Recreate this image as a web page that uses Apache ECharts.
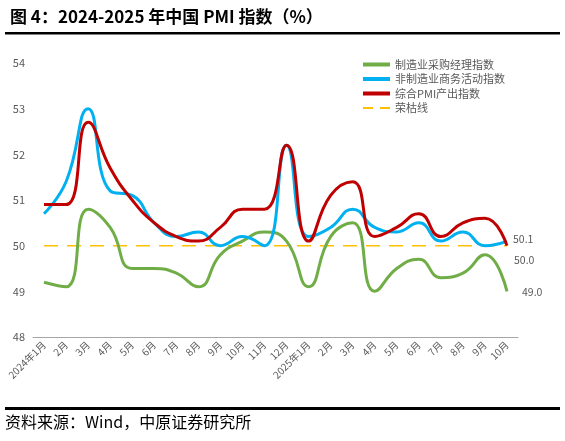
<!DOCTYPE html>
<html>
<head>
<meta charset="utf-8">
<script src="https://cdn.jsdelivr.net/npm/echarts@6/dist/echarts.min.js"></script>
<style>
  html, body { margin: 0; padding: 0; background: #fff; }
  #chart { width: 565px; height: 441px; }
</style>
</head>
<body>
<div id="chart"></div>
<script>
const months = ['2024年1月', '2月', '3月', '4月', '5月', '6月', '7月', '8月', '9月', '10月', '11月', '12月',
  '2025年1月', '2月', '3月', '4月', '5月', '6月', '7月', '8月', '9月', '10月'];
const manufacturing = [49.2, 49.1, 50.8, 50.4, 49.5, 49.5, 49.4, 49.1, 49.8, 50.1, 50.3, 50.1,
  49.1, 50.2, 50.5, 49.0, 49.5, 49.7, 49.3, 49.4, 49.8, 49.0];
const nonManufacturing = [50.7, 51.4, 53.0, 51.2, 51.1, 50.5, 50.2, 50.3, 50.0, 50.2, 50.0, 52.2,
  50.2, 50.4, 50.8, 50.4, 50.3, 50.5, 50.1, 50.3, 50.0, 50.1];
const composite = [50.9, 50.9, 52.7, 51.7, 51.0, 50.5, 50.2, 50.1, 50.4, 50.8, 50.8, 52.2,
  50.1, 51.1, 51.4, 50.2, 50.4, 50.7, 50.2, 50.5, 50.6, 50.0];
const boomLine = months.map(() => 50);

const chart = echarts.init(document.getElementById('chart'));
const font = '"Noto Sans CJK SC", sans-serif';

// 末端数值标注
const endMark = (arr, offset) => ({
  symbol: 'circle', symbolSize: 0, silent: true,
  label: { show: true, position: 'right', offset: offset, color: '#595959', fontSize: 10.5, fontFamily: font,
    formatter: p => p.value.toFixed(1) },
  data: [{ coord: [arr.length - 1, arr[arr.length - 1]], value: arr[arr.length - 1] }]
});

const option = {
  animation: false,
  textStyle: { fontFamily: font },
  title: {
    text: '图 4：2024-2025 年中国 PMI 指数（%）',
    left: 5, top: 3,
    textStyle: { fontSize: 17, fontWeight: 'bold', color: '#000', fontFamily: font }
  },
  graphic: [
    { type: 'rect', shape: { x: 5, y: 32, width: 555, height: 2.5 }, style: { fill: '#000' } },
    { type: 'rect', shape: { x: 5, y: 407, width: 555, height: 3 }, style: { fill: '#000' } },
    { type: 'text', left: 5, top: 414, style: { text: '资料来源：Wind，中原证券研究所', fontSize: 16, fill: '#000', fontFamily: font } }
  ],
  legend: {
    orient: 'vertical',
    left: 358, top: 54,
    itemWidth: 27, itemHeight: 4, itemGap: 3.5,
    textStyle: { fontSize: 11, color: '#595959', fontFamily: font },
    data: [
      { name: '制造业采购经理指数', icon: 'rect' },
      { name: '非制造业商务活动指数', icon: 'rect' },
      { name: '综合PMI产出指数', icon: 'rect' },
      { name: '荣枯线', icon: 'path://M0,0H10V2H0ZM17,0H27V2H17Z', itemStyle: { color: '#FFC000' } }
    ]
  },
  grid: { left: 33, right: 47, top: 63, bottom: 104 },
  xAxis: {
    type: 'category',
    data: months,
    boundaryGap: true,
    axisLine: { lineStyle: { color: '#a6a6a6' } },
    axisTick: { lineStyle: { color: '#a6a6a6' } },
    axisLabel: { rotate: 45, interval: 0, fontSize: 10, color: '#595959', margin: 6 }
  },
  yAxis: {
    type: 'value',
    min: 48, max: 54, interval: 1,
    axisLine: { show: false },
    axisTick: { show: false },
    splitLine: { show: false },
    axisLabel: { fontSize: 11, color: '#595959', margin: 8 }
  },
  series: [
    {
      name: '制造业采购经理指数', type: 'line', smooth: 0.5, symbol: 'none',
      lineStyle: { width: 3, color: '#70AD47' }, itemStyle: { color: '#70AD47' },
      data: manufacturing, markPoint: endMark(manufacturing, [10, 1]), z: 3
    },
    {
      name: '非制造业商务活动指数', type: 'line', smooth: 0.5, symbol: 'none',
      lineStyle: { width: 3, color: '#00B0F0' }, itemStyle: { color: '#00B0F0' },
      data: nonManufacturing, markPoint: endMark(nonManufacturing, [1, -2]), z: 4
    },
    {
      name: '综合PMI产出指数', type: 'line', smooth: 0.5, symbol: 'none',
      lineStyle: { width: 3, color: '#C00000' }, itemStyle: { color: '#C00000' },
      data: composite, markPoint: endMark(composite, [2, 14]), z: 5
    },
    {
      name: '荣枯线', type: 'line', symbol: 'none',
      lineStyle: { width: 1.5, color: '#FFC000', type: [14, 9] }, itemStyle: { color: '#FFC000' },
      data: boomLine, z: 2
    }
  ]
};

chart.setOption(option);
</script>
</body>
</html>
